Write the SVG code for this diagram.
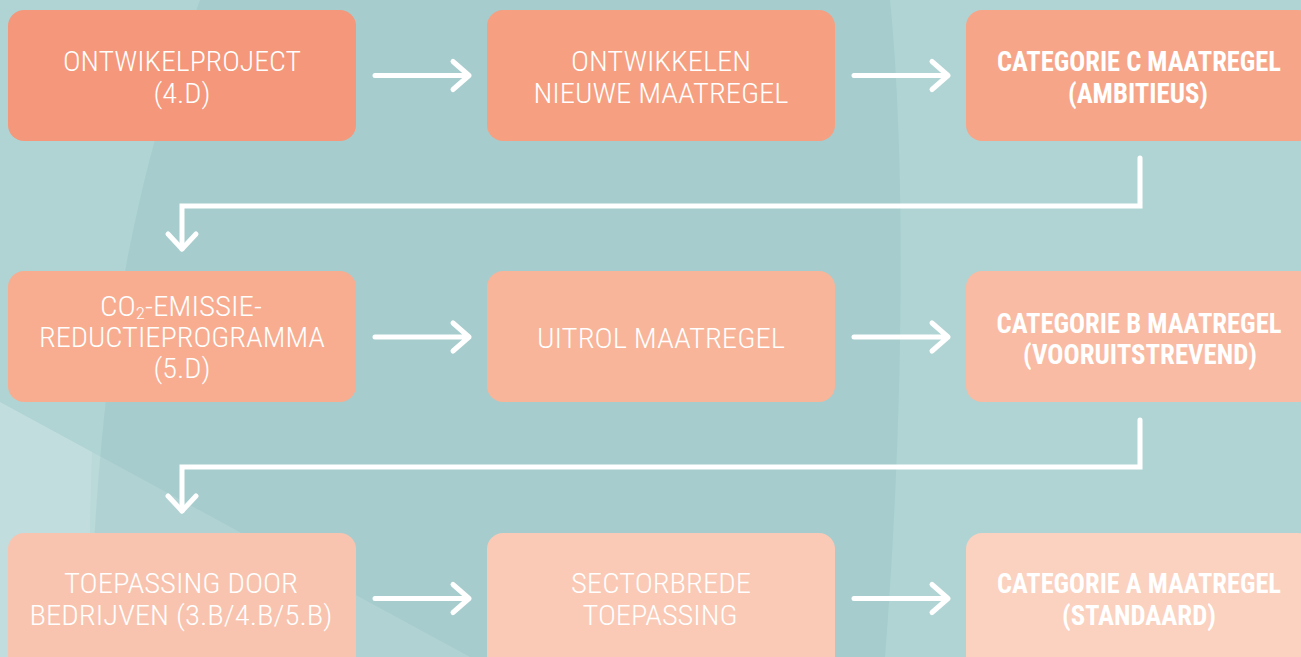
<svg xmlns="http://www.w3.org/2000/svg" width="1301" height="657" viewBox="0 0 1301 657">
<style>
.lbl{font-family:"Liberation Sans Narrow","Roboto Condensed","DejaVu Sans Condensed","Roboto","Liberation Sans",sans-serif;font-size:28px;font-weight:300;fill:#ffffff;text-anchor:middle}
.b{font-weight:bold}
.con{fill:none;stroke:#ffffff;stroke-width:5;stroke-linecap:round;stroke-linejoin:round}
.el{fill:none;stroke:#ffffff;stroke-width:5;stroke-linecap:round;stroke-linejoin:miter}
</style>
<g id="background">
<rect x="0" y="0" width="1301" height="657" fill="#B0D4D4"/>
<path d="M200,0 L890,0 C905,150 905,400 885,657 L90,657 C95,400 125,200 200,0 Z" fill="#A6CCCD"/>
<path d="M0,402 L470,657 L0,657 Z" fill="#ffffff" opacity="0.13"/>
<path d="M0,402 L92,452 C90,520 88,600 88,657 L0,657 Z" fill="#ffffff" opacity="0.12"/>
</g>
<g id="connectors">
<path class="con" d="M375,75.5 H469 M453,61.5 L469,75.5 L453,89.5"/>
<path class="con" d="M854,75.5 H948 M932,61.5 L948,75.5 L932,89.5"/>
<path class="el" d="M1140,158 V206 H182 V249"/>
<path class="con" d="M168,234 L182,249 L196,234"/>
<path class="con" d="M375,337 H469 M453,323 L469,337 L453,351"/>
<path class="con" d="M854,337 H948 M932,323 L948,337 L932,351"/>
<path class="el" d="M1140,420 V467 H182 V511"/>
<path class="con" d="M168,496 L182,511 L196,496"/>
<path class="con" d="M375,598.5 H469 M453,584.5 L469,598.5 L453,612.5"/>
<path class="con" d="M854,598.5 H948 M932,584.5 L948,598.5 L932,612.5"/>
</g>
<g id="n1">
<rect x="8" y="10" width="348" height="131" rx="16" fill="#F5977A"/>
<text class="lbl" x="182" y="71" textLength="238" lengthAdjust="spacingAndGlyphs">ONTWIKELPROJECT</text>
<text class="lbl" x="182" y="103" textLength="57" lengthAdjust="spacingAndGlyphs">(4.D)</text>
</g>
<g id="n2">
<rect x="487" y="10" width="348" height="131" rx="16" fill="#F69F81"/>
<text class="lbl" x="661" y="71" textLength="180" lengthAdjust="spacingAndGlyphs">ONTWIKKELEN</text>
<text class="lbl" x="661" y="103" textLength="255" lengthAdjust="spacingAndGlyphs">NIEUWE MAATREGEL</text>
</g>
<g id="n3">
<rect x="966" y="10" width="348" height="131" rx="16" fill="#F7A588"/>
<text class="lbl b" x="1139" y="71" textLength="284" lengthAdjust="spacingAndGlyphs">CATEGORIE C MAATREGEL</text>
<text class="lbl b" x="1138" y="103" textLength="140" lengthAdjust="spacingAndGlyphs">(AMBITIEUS)</text>
</g>
<g id="n4">
<rect x="8" y="271" width="348" height="131" rx="16" fill="#F8AD91"/>
<text class="lbl" x="181" y="316" textLength="162" lengthAdjust="spacingAndGlyphs">CO<tspan font-size="17" dy="3">2</tspan><tspan dy="-3">-EMISSIE-</tspan></text>
<text class="lbl" x="182" y="347" textLength="286" lengthAdjust="spacingAndGlyphs">REDUCTIEPROGRAMMA</text>
<text class="lbl" x="182" y="378" textLength="57" lengthAdjust="spacingAndGlyphs">(5.D)</text>
</g>
<g id="n5">
<rect x="487" y="271" width="348" height="131" rx="16" fill="#F8B59A"/>
<text class="lbl" x="661" y="348" textLength="248" lengthAdjust="spacingAndGlyphs">UITROL MAATREGEL</text>
</g>
<g id="n6">
<rect x="966" y="271" width="348" height="131" rx="16" fill="#F9BBA3"/>
<text class="lbl b" x="1139" y="333" textLength="285" lengthAdjust="spacingAndGlyphs">CATEGORIE B MAATREGEL</text>
<text class="lbl b" x="1140" y="364" textLength="234" lengthAdjust="spacingAndGlyphs">(VOORUITSTREVEND)</text>
</g>
<g id="n7">
<rect x="8" y="533" width="348" height="140" rx="16" fill="#F9C4AF"/>
<text class="lbl" x="181" y="593" textLength="234" lengthAdjust="spacingAndGlyphs">TOEPASSING DOOR</text>
<text class="lbl" x="181" y="625" textLength="303" lengthAdjust="spacingAndGlyphs">BEDRIJVEN (3.B/4.B/5.B)</text>
</g>
<g id="n8">
<rect x="487" y="533" width="348" height="140" rx="16" fill="#FACAB6"/>
<text class="lbl" x="661" y="593" textLength="180" lengthAdjust="spacingAndGlyphs">SECTORBREDE</text>
<text class="lbl" x="660" y="625" textLength="155" lengthAdjust="spacingAndGlyphs">TOEPASSING</text>
</g>
<g id="n9">
<rect x="966" y="533" width="348" height="140" rx="16" fill="#FBD1BF"/>
<text class="lbl b" x="1139" y="593" textLength="284" lengthAdjust="spacingAndGlyphs">CATEGORIE A MAATREGEL</text>
<text class="lbl b" x="1139" y="625" textLength="154" lengthAdjust="spacingAndGlyphs">(STANDAARD)</text>
</g>
</svg>
